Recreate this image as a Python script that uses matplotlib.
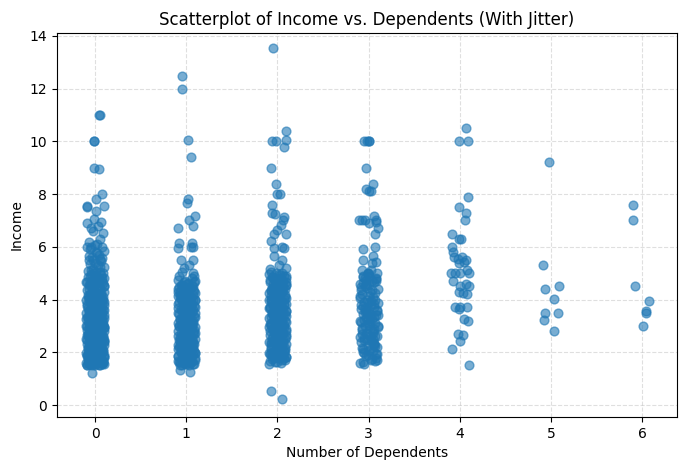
import matplotlib
matplotlib.use("Agg")
import matplotlib.pyplot as plt

# jitter rows (hand-chosen horizontal offsets)
JA = [-0.09, 0.04, -0.03, 0.08, -0.06, 0.01, 0.09, -0.01, 0.06, -0.08]
JB = [0.03, -0.05, 0.07, -0.02, 0.05, -0.07, 0.02, 0.10, -0.04, 0.00]
JC = [0.00, -0.085, 0.055, -0.035, 0.095, -0.055, 0.025, -0.095, 0.075, -0.015]
JD = [-0.065, 0.085, -0.005, 0.045, -0.075, 0.065, -0.045, 0.015, -0.025, 0.10]

# ---- dependents = 0 ----
inc0_dense = [
    1.50, 1.50, 1.52, 1.55, 1.55, 1.58, 1.60, 1.60, 1.62, 1.65,
    1.68, 1.70, 1.70, 1.75, 1.78, 1.80, 1.80, 1.82, 1.85, 1.88,
    1.90, 1.92, 1.95, 2.00, 2.00, 2.00, 2.05, 2.08, 2.10, 2.15,
    2.18, 2.20, 2.20, 2.25, 2.28, 2.30, 2.35, 2.38, 2.40, 2.40,
    2.45, 2.48, 2.50, 2.50, 2.55, 2.58, 2.60, 2.65, 2.68, 2.70,
    2.75, 2.78, 2.80, 2.80, 2.85, 2.88, 2.90, 2.95, 3.00, 3.00,
    3.00, 3.05, 3.10, 3.12, 3.15, 3.20, 3.20, 3.25, 3.30, 3.35,
    3.38, 3.40, 3.45, 3.50, 3.50, 3.55, 3.60, 3.62, 3.65, 3.70,
    3.75, 3.78, 3.80, 3.85, 3.90, 3.95, 4.00, 4.00, 4.05, 4.10,
    4.15, 4.20, 4.25, 4.30, 4.35, 4.40, 4.50, 4.50, 4.55, 4.60,
    4.65, 4.70, 4.75, 4.80, 4.85, 4.90, 5.00, 5.00, 5.05, 5.10,
]
jit0_dense = (JA + JB) * 5 + JA
inc0_more = [
    1.50, 1.51, 1.53, 1.54, 1.56, 1.57, 1.59, 1.61, 1.63, 1.64,
    1.66, 1.67, 1.69, 1.71, 1.73, 1.74, 1.76, 1.79, 1.81, 1.83,
    1.84, 1.86, 1.87, 1.89, 1.91, 1.93, 1.96, 1.98, 2.01, 2.03,
    2.06, 2.09, 2.12, 2.14, 2.17, 2.19, 2.21, 2.24, 2.26, 2.29,
    2.31, 2.33, 2.36, 2.39, 2.42, 2.44, 2.47, 2.49, 2.52, 2.54,
    2.57, 2.59, 2.62, 2.64, 2.67, 2.69, 2.72, 2.74, 2.77, 2.79,
    2.82, 2.84, 2.87, 2.89, 2.92, 2.94, 2.97, 2.99, 3.02, 3.04,
    3.07, 3.09, 3.11, 3.14, 3.17, 3.19, 3.22, 3.24, 3.27, 3.29,
    3.32, 3.34, 3.37, 3.39, 3.42, 3.44, 3.47, 3.49, 3.52, 3.54,
    3.57, 3.59, 3.62, 3.64, 3.67, 3.69, 3.72, 3.74, 3.77, 3.79,
    3.82, 3.84, 3.87, 3.89, 3.92, 3.94, 3.97, 3.99, 4.02, 4.04,
    4.07, 4.09, 4.12, 4.14, 4.17, 4.19, 4.22, 4.24, 4.27, 4.29,
    4.32, 4.36, 4.42, 4.48, 4.52, 4.58, 4.62, 4.68, 4.72, 4.78,
    1.55, 1.65, 1.75, 1.85, 1.95, 2.05, 2.15, 2.25, 2.35, 2.45,
    2.55, 2.65, 2.75, 2.85, 2.95, 3.05, 3.15, 3.25, 3.35, 3.45,
    4.55, 4.62, 4.70, 4.78, 4.85, 4.92, 4.98, 5.05, 5.15, 5.22,
    5.30, 5.35, 5.45, 5.50, 5.55, 5.65, 5.75, 5.85, 6.00, 6.05,
]
jit0_more = (JC + JD) * 7 + JC + JD + JB
inc0_sparse = [11.0, 11.0, 10.0, 10.0, 9.0, 8.95, 8.01, 7.82, 7.53, 7.52,
               7.53, 7.34, 7.05, 6.92, 6.96, 6.71, 6.52, 6.80, 6.60, 6.30,
               6.20, 6.01, 6.01, 6.10, 5.82, 5.90, 5.51, 5.57, 5.40, 5.13,
               5.25, 4.81, 5.60, 5.70, 1.22]
jit0_sparse = [0.047, 0.052, -0.015, -0.008, -0.011, 0.044, 0.077, 0.011, -0.092, -0.088,
               0.099, 0.011, -0.011, -0.084, 0.062, -0.048, 0.084, 0.030, -0.020, 0.050,
               -0.066, 0.080, -0.092, 0.020, 0.007, -0.050, -0.066, 0.080, 0.000, -0.048,
               0.060, 0.099, -0.030, 0.040, -0.037]

# ---- dependents = 1 ----
inc1_dense = [
    1.50, 1.52, 1.55, 1.60, 1.62, 1.65, 1.70, 1.72, 1.75, 1.80,
    1.85, 1.88, 1.90, 1.95, 2.00, 2.00, 2.05, 2.10, 2.15, 2.20,
    2.22, 2.25, 2.30, 2.35, 2.40, 2.42, 2.45, 2.50, 2.50, 2.55,
    2.60, 2.65, 2.70, 2.72, 2.75, 2.80, 2.85, 2.90, 2.95, 3.00,
    3.00, 3.05, 3.10, 3.15, 3.20, 3.25, 3.30, 3.35, 3.40, 3.45,
    3.50, 3.50, 3.55, 3.60, 3.65, 3.70, 3.75, 3.80, 3.85, 3.90,
    3.95, 4.00, 4.00, 4.05, 4.10, 4.15, 4.20, 4.25, 4.30, 4.35,
    4.40, 4.45, 4.50, 4.50, 4.55, 4.60, 4.65, 4.70, 4.80, 4.90,
]
jit1_dense = (JB + JA) * 4
inc1_more = [
    1.51, 1.54, 1.57, 1.59, 1.63, 1.67, 1.69, 1.73, 1.77, 1.79,
    1.83, 1.86, 1.89, 1.93, 1.97, 2.02, 2.07, 2.12, 2.17, 2.23,
    2.27, 2.32, 2.37, 2.44, 2.47, 2.52, 2.57, 2.62, 2.67, 2.73,
    2.77, 2.82, 2.87, 2.92, 2.97, 3.02, 3.07, 3.12, 3.17, 3.22,
    3.27, 3.32, 3.37, 3.42, 3.47, 3.52, 3.57, 3.62, 3.67, 3.72,
    3.77, 3.82, 3.87, 3.92, 3.97, 4.02, 4.07, 4.12, 4.17, 4.22,
    4.27, 4.32, 4.37, 4.42, 4.47, 4.52, 4.57, 4.62, 4.67, 4.72,
    1.58, 1.68, 1.78, 1.88, 1.98, 2.08, 2.18, 2.28, 2.38, 2.48,
    2.58, 2.68, 2.78, 2.88, 2.98, 3.08, 3.18, 3.28, 3.38, 3.48,
    3.58, 3.68, 3.78, 3.88, 3.98, 4.08, 4.18, 4.28, 4.38, 4.48,
]
jit1_more = (JD + JC) * 5
inc1_sparse = [12.49, 12.0, 10.07, 9.41, 7.82, 7.68, 7.15, 7.03, 6.80, 6.71,
               6.14, 6.14, 6.00, 5.95, 6.01, 5.51, 5.50, 5.30, 5.19, 4.75,
               5.00, 5.05, 4.90, 1.32, 1.24]
jit1_sparse = [-0.044, -0.051, 0.015, 0.058, 0.022, 0.011, 0.095, 0.033, 0.080, -0.088,
               -0.077, 0.059, 0.080, -0.088, 0.055, -0.060, 0.073, 0.030, -0.020, -0.090,
               0.070, -0.050, 0.090, -0.070, 0.044]

# ---- dependents = 2 ----
inc2_dense = [
    1.55, 1.60, 1.65, 1.70, 1.75, 1.80, 1.82, 1.85, 1.90, 1.95,
    2.00, 2.00, 2.05, 2.10, 2.15, 2.20, 2.25, 2.30, 2.35, 2.40,
    2.40, 2.45, 2.50, 2.50, 2.55, 2.60, 2.65, 2.70, 2.75, 2.80,
    2.85, 2.90, 2.95, 3.00, 3.00, 3.05, 3.10, 3.15, 3.20, 3.25,
    3.30, 3.35, 3.40, 3.45, 3.50, 3.50, 3.55, 3.60, 3.65, 3.70,
    3.75, 3.80, 3.85, 3.90, 3.95, 4.00, 4.00, 4.05, 4.10, 4.20,
    4.25, 4.30, 4.35, 4.40, 4.45, 4.50, 4.55, 4.60, 4.70, 4.75,
    4.80, 4.85, 4.90, 5.00, 5.00, 5.05, 4.95, 4.65, 4.15, 3.05,
]
jit2_dense = (JA + JB) * 4
inc2_more = [
    1.62, 1.67, 1.72, 1.77, 1.83, 1.87, 1.92, 1.97, 2.02, 2.07,
    2.12, 2.17, 2.22, 2.27, 2.32, 2.37, 2.43, 2.47, 2.52, 2.57,
    2.62, 2.67, 2.72, 2.77, 2.82, 2.87, 2.92, 2.97, 3.02, 3.07,
    3.12, 3.17, 3.22, 3.27, 3.32, 3.37, 3.42, 3.47, 3.52, 3.57,
    3.62, 3.67, 3.72, 3.77, 3.82, 3.87, 3.92, 3.97, 4.02, 4.07,
    4.12, 4.17, 4.22, 4.27, 4.32, 4.37, 4.42, 4.47, 4.52, 4.57,
    4.62, 4.67, 4.72, 4.77, 4.82, 4.87, 4.92, 4.97, 1.78, 1.88,
    1.98, 2.08, 2.18, 2.28, 2.38, 2.48, 2.58, 2.68, 2.78, 2.88,
    2.98, 3.08, 3.18, 3.28, 3.38, 3.48, 3.58, 3.68, 3.78, 3.88,
    3.98, 4.08, 4.18, 4.28, 4.38, 4.48, 4.58, 4.68, 4.78, 4.88,
]
jit2_more = (JC + JD) * 5
inc2_sparse = [13.54, 10.41, 10.02, 10.02, 10.05, 9.79, 9.00, 8.40, 8.01, 8.01,
               7.59, 7.30, 7.25, 7.13, 7.00, 6.84, 6.65, 6.49, 6.49, 6.23,
               5.95, 6.01, 5.95, 5.66, 5.51, 5.19, 5.15, 5.30, 0.52, 0.23]
jit2_sparse = [-0.044, 0.099, -0.058, -0.015, 0.091, 0.077, -0.066, -0.015, -0.007, 0.029,
               -0.062, -0.055, -0.029, 0.073, 0.066, 0.044, -0.007, -0.037, 0.095, -0.073,
               -0.037, 0.055, 0.073, -0.037, 0.055, 0.091, -0.080, 0.020, -0.066, 0.051]

# ---- dependents = 3 ----
inc3_dense = [
    1.60, 1.75, 1.85, 1.95, 2.00, 2.10, 2.20, 2.25, 2.35, 2.40,
    2.50, 2.55, 2.60, 2.70, 2.80, 2.85, 2.90, 3.00, 3.00, 3.10,
    3.20, 3.25, 3.30, 3.40, 3.45, 3.50, 3.55, 3.60, 3.70, 3.80,
    3.85, 3.90, 4.00, 4.00, 4.10, 4.20, 4.30, 4.40, 4.50, 4.55,
    4.60, 4.70, 4.75, 4.80, 4.85, 4.90, 5.00, 5.00, 2.30, 3.65,
]
jit3_dense = (JA + JB) * 2 + JA
inc3_more = [
    1.65, 1.80, 1.90, 2.05, 2.15, 2.28, 2.45, 2.62, 2.75, 2.95,
    3.05, 3.15, 3.35, 3.52, 3.62, 3.75, 3.95, 4.05, 4.25, 4.45,
    4.62, 4.78, 4.95, 2.52, 2.68, 2.88, 3.22, 3.38, 3.58, 3.88,
    4.15, 4.35, 4.65, 4.82, 1.92, 2.12, 2.42, 2.58, 3.12, 3.48,
    1.70, 1.98, 2.22, 2.48, 2.72, 2.92, 3.18, 3.42, 3.68, 3.92,
    4.12, 4.38, 4.58, 4.72, 4.88, 2.05, 2.62, 3.28, 3.82, 4.48,
]
jit3_more = (JD + JC) * 2 + JB + JA
inc3_sparse = [10.02, 10.02, 10.02, 10.02, 9.00, 8.40, 8.19, 8.13, 8.12, 7.03,
               7.03, 7.03, 7.15, 7.00, 6.96, 6.90, 6.71, 6.49, 6.01, 5.91,
               5.66, 5.51, 5.44, 5.38, 5.13, 5.13, 5.00, 1.56, 1.66, 1.72]
jit3_sparse = [-0.044, -0.018, 0.007, 0.000, -0.026, 0.047, -0.022, 0.004, 0.026, -0.102,
               -0.073, -0.036, 0.062, 0.080, 0.084, 0.000, 0.102, 0.066, 0.073, -0.062,
               0.047, -0.055, 0.084, 0.036, -0.066, 0.030, -0.010, -0.048, 0.070, 0.090]

# ---- dependents = 4 ----
inc4 = [10.51, 10.0, 10.0, 7.89, 7.51, 7.29, 7.01, 6.49, 6.29, 6.29,
        6.01, 5.82, 5.63, 5.53, 5.63, 5.51, 5.38, 5.44, 5.13, 4.99,
        5.01, 5.00, 5.00, 4.70, 4.53, 4.60, 4.52, 4.27, 4.24, 4.22,
        3.72, 3.64, 3.70, 3.71, 3.27, 3.19, 2.70, 2.64, 2.44, 2.13, 1.53]
jit4 = [0.066, -0.011, 0.091, 0.087, -0.011, 0.066, 0.055, -0.087, -0.007, 0.018,
        -0.080, -0.077, -0.066, -0.022, 0.029, 0.073, -0.011, 0.044, 0.080, -0.091,
        -0.047, 0.007, 0.098, -0.077, 0.000, 0.066, 0.098, -0.011, 0.036, 0.080,
        -0.047, -0.004, 0.000, 0.080, 0.051, 0.091, -0.022, 0.033, 0.000, -0.087, 0.098]

# ---- dependents = 5 ----
inc5 = [9.20, 5.32, 4.41, 4.52, 4.02, 3.48, 3.48, 3.22, 2.82]
jit5 = [-0.015, -0.091, -0.069, 0.095, 0.036, -0.069, 0.084, -0.080, 0.036]

# ---- dependents = 6 ----
inc6 = [7.59, 7.02, 4.52, 3.95, 3.56, 3.48, 2.99]
jit6 = [-0.098, -0.098, -0.077, 0.077, 0.044, 0.044, 0.011]

groups = [
    (0, inc0_dense + inc0_more + inc0_sparse, jit0_dense + jit0_more + jit0_sparse),
    (1, inc1_dense + inc1_more + inc1_sparse, jit1_dense + jit1_more + jit1_sparse),
    (2, inc2_dense + inc2_more + inc2_sparse, jit2_dense + jit2_more + jit2_sparse),
    (3, inc3_dense + inc3_more + inc3_sparse, jit3_dense + jit3_more + jit3_sparse),
    (4, inc4, jit4),
    (5, inc5, jit5),
    (6, inc6, jit6),
]

xs, ys = [], []
for dep, inc, jit in groups:
    for v, j in zip(inc, jit):
        xs.append(dep + j)
        ys.append(v)

fig = plt.figure(figsize=(6.86, 4.70), dpi=100)
ax = fig.add_axes([57 / 686, 1 - 417 / 470, (677 - 57) / 686, (417 - 33) / 470])
ax.scatter(xs, ys, s=40, alpha=0.6, color="#1f77b4", zorder=3)
ax.set_xlim(-0.417, 6.384)
ax.set_ylim(-0.455, 14.11)
ax.set_xticks(range(0, 7))
ax.set_yticks(range(0, 15, 2))
ax.grid(True, linestyle="--", alpha=0.4, zorder=0)
ax.set_axisbelow(True)
ax.set_title("Scatterplot of Income vs. Dependents (With Jitter)", fontsize=12)
ax.set_xlabel("Number of Dependents")
ax.set_ylabel("Income")
fig.savefig("out.png", dpi=100)
